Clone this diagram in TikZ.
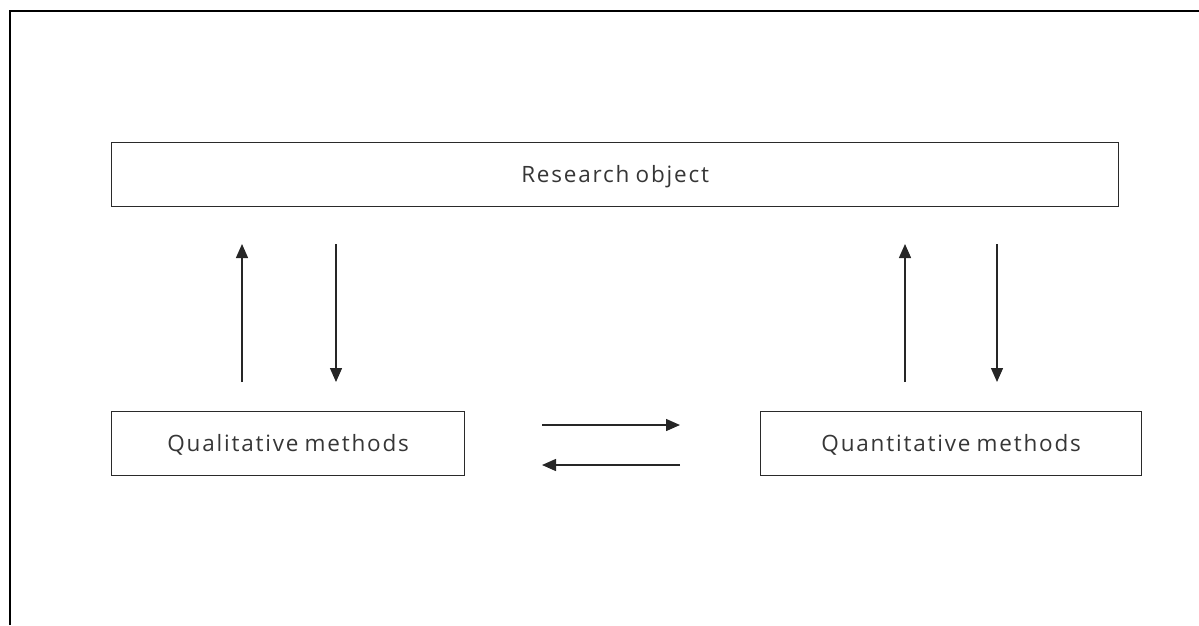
\documentclass[tikz,border=0pt]{standalone}
\usepackage{fontspec}
\setmainfont{Open Sans}[LetterSpace=8,WordSpace=0.8]
\usetikzlibrary{arrows.meta}
\definecolor{txt}{HTML}{363636}
\definecolor{edge}{HTML}{2A2A2A}
\tikzset{
  box/.style={draw=edge, line width=1.3pt, inner sep=0pt, anchor=north west, text=txt,
    text height=20pt, text depth=4pt, font=\fontsize{22.5}{24}\selectfont},
  conn/.style={draw=black!85, line width=1.4pt, -{Triangle[length=14pt,width=12pt]}},
}
\begin{document}
\begin{tikzpicture}[x=1pt,y=-1pt]
\useasboundingbox (0,0) rectangle (1199,625);
\draw[line width=2.6pt, black] (10,625) -- (10,11) -- (1199,11);
\node[box, minimum width=1007pt, minimum height=64pt] (ro) at (111,142) {Research object};
\node[box, minimum width=353pt, minimum height=64pt] (ql) at (111,411) {Qualitative methods};
\node[box, minimum width=381pt, minimum height=64pt] (qn) at (760,411) {Quantitative methods};
\coordinate (a1s) at (242,382); \coordinate (a1e) at (242,244);
\coordinate (a2s) at (336,244); \coordinate (a2e) at (336,382);
\coordinate (a3s) at (905,382); \coordinate (a3e) at (905,244);
\coordinate (a4s) at (997,244); \coordinate (a4e) at (997,382);
\coordinate (h1s) at (542,425); \coordinate (h1e) at (680,425);
\coordinate (h2s) at (680,465); \coordinate (h2e) at (542,465);
\draw[conn] (a1s) -- (a1e);
\draw[conn] (a2s) -- (a2e);
\draw[conn] (a3s) -- (a3e);
\draw[conn] (a4s) -- (a4e);
\draw[conn] (h1s) -- (h1e);
\draw[conn] (h2s) -- (h2e);
\end{tikzpicture}
\end{document}
